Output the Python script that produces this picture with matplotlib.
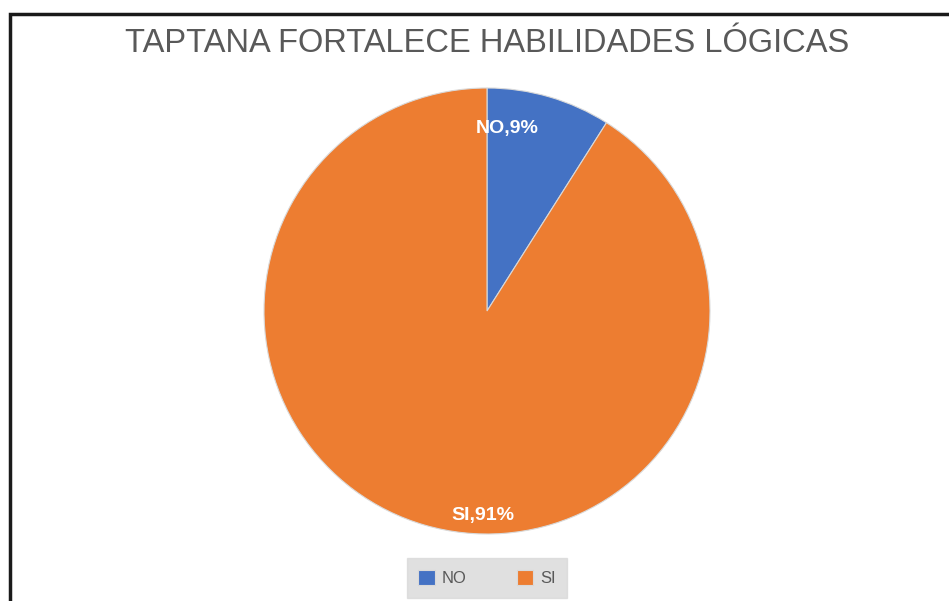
import matplotlib
matplotlib.use("Agg")
import matplotlib.pyplot as plt
from matplotlib.patches import Rectangle

# datos de la encuesta
categorias = ["NO", "SI"]
porcentajes = [9, 91]
colores = ["#4472C4", "#ED7D31"]
titulo = "TAPTANA FORTALECE HABILIDADES LÓGICAS"

plt.rcParams['font.family'] = ['Liberation Sans Narrow', 'Liberation Sans', 'DejaVu Sans']

W, H = 949, 601
fig = plt.figure(figsize=(W / 100, H / 100), dpi=100)

# marco del grafico
fig.add_artist(Rectangle((10 / W, -0.05), 1.2, (H - 14) / H + 0.05, transform=fig.transFigure,
                         fill=False, edgecolor="#1a1a1a", linewidth=2.5))

fig.text(487 / W, 1 - 44 / H, titulo, ha="center", va="center",
         fontsize=23.5, color="#595959")

# pastel
cx, cy, r = 487, 311, 223
ax = fig.add_axes([(cx - r) / W, (H - cy - r) / H, 2 * r / W, 2 * r / H])
wedges, _ = ax.pie(porcentajes, colors=colores, startangle=90, counterclock=False,
                   radius=1, wedgeprops=dict(edgecolor="#d9d9d9", linewidth=0.8))
ax.set_xlim(-1, 1)
ax.set_ylim(-1, 1)
ax.set_aspect("equal")
ax.axis("off")

# etiquetas de datos
pos_etiquetas = [(0.09, 0.82), (-0.02, -0.915)]
for cat, p, (x, y) in zip(categorias, porcentajes, pos_etiquetas):
    ax.text(x, y, f"{cat},{p}%", ha="center", va="center", color="white",
            fontsize=14, fontweight="bold")

# leyenda
leg = fig.legend(wedges, categorias, loc="center", bbox_to_anchor=(487 / W, 1 - 578 / H),
                 ncol=2, frameon=True, fontsize=12, handlelength=1.0, handleheight=1.0,
                 columnspacing=3.0, handletextpad=0.4, borderpad=0.7)
leg.get_frame().set_facecolor("#d9d9d9")
leg.get_frame().set_edgecolor("#d9d9d9")
leg.get_frame().set_boxstyle("square", pad=0)
for t in leg.get_texts():
    t.set_color("#595959")

fig.savefig("out.png", dpi=100)
